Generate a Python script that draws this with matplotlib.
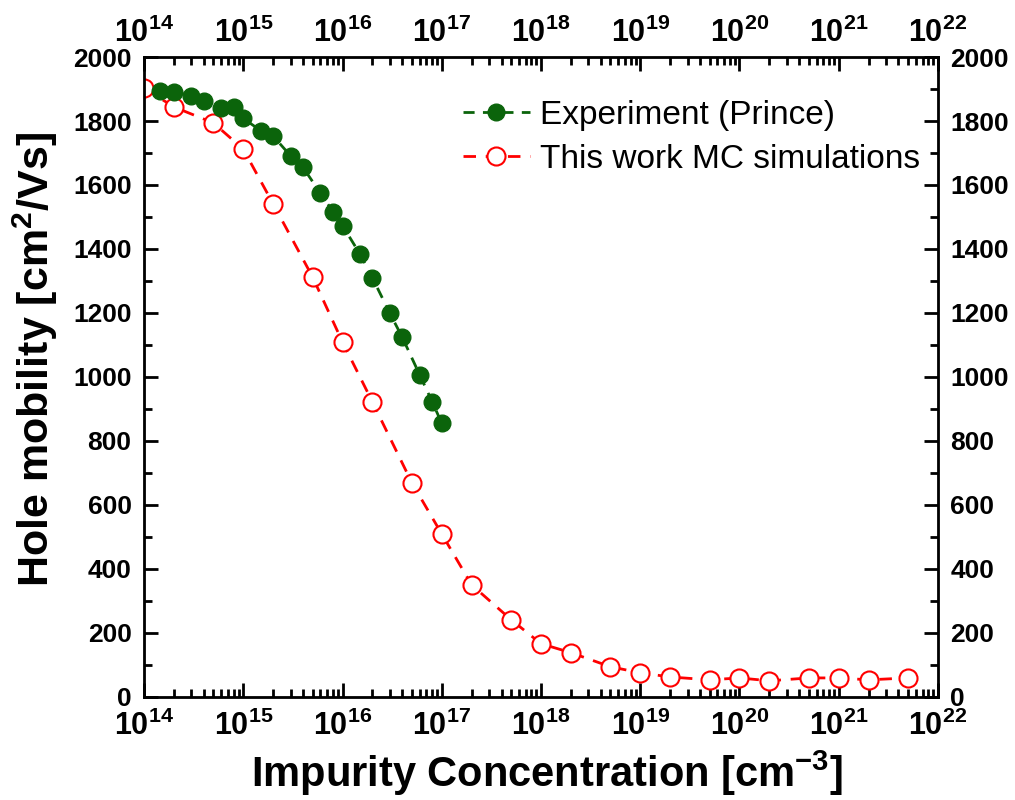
import math
import matplotlib
matplotlib.use("Agg")
import matplotlib.pyplot as plt
from matplotlib.ticker import LogLocator, MultipleLocator, FuncFormatter, NullFormatter

plt.rcParams['font.family'] = ['Liberation Sans', 'DejaVu Sans']
plt.rcParams['mathtext.fontset'] = 'custom'
plt.rcParams['mathtext.rm'] = 'Liberation Sans:bold'
plt.rcParams['mathtext.bf'] = 'Liberation Sans:bold'
plt.rcParams['mathtext.default'] = 'bf'

# Experiment (Prince)
exp_conc = [1.45e14, 2e14, 3e14, 4e14, 6e14, 8e14, 1e15, 1.5e15, 2e15, 3e15, 4e15,
            6e15, 8e15, 1e16, 1.5e16, 2e16, 3e16, 4e16, 6e16, 8e16, 1e17]
exp_mob = [1895, 1892, 1879, 1862, 1842, 1843, 1808, 1770, 1753, 1691, 1655,
           1574, 1517, 1473, 1384, 1310, 1199, 1124, 1006, 923, 855]

# This work MC simulations
mc_conc = [1e14, 2e14, 5e14, 1e15, 2e15, 5e15, 1e16, 2e16, 5e16, 1e17, 2e17, 5e17,
           1e18, 2e18, 5e18, 1e19, 2e19, 5e19, 1e20, 2e20, 5e20, 1e21, 2e21, 5e21]
mc_mob = [1903, 1844, 1794, 1712, 1541, 1312, 1109, 922, 669, 509, 350, 241,
          166, 138, 94, 75, 62, 53, 59, 50, 59, 59, 53, 59]

fig = plt.figure(figsize=(10.15, 8), dpi=100)
ax = fig.add_axes([0.1419, 0.129, 0.7822, 0.7997])

ax.plot(exp_conc, exp_mob, linestyle=(0, (4, 3)), color='#0b640b', lw=2,
        marker='o', markersize=12, markerfacecolor='#0b640b', markeredgecolor='#0b640b',
        label='Experiment (Prince)', zorder=3)
ax.plot(mc_conc, mc_mob, linestyle=(0, (4.5, 3.5)), color='#ff0000', lw=2,
        marker='o', markersize=13, markerfacecolor='white', markeredgecolor='#ff0000',
        markeredgewidth=1.5, label='This work MC simulations', zorder=2)

def setup_x(a):
    a.set_xscale('log')
    a.set_xlim(1e14, 1e22)
    a.xaxis.set_major_locator(LogLocator(base=10, numticks=20))
    a.xaxis.set_minor_locator(LogLocator(base=10, subs=range(2, 10), numticks=200))
    a.xaxis.set_minor_formatter(NullFormatter())
    a.xaxis.set_major_formatter(FuncFormatter(lambda v, p: r'$\mathbf{10^{%d}}$' % round(math.log10(v))))

setup_x(ax)
ax.set_ylim(0, 2000)
ax.yaxis.set_major_locator(MultipleLocator(200))
ax.yaxis.set_minor_locator(MultipleLocator(100))

ax.tick_params(which='both', direction='in', top=False, right=True,
               labeltop=False, labelright=True, width=2)
ax.tick_params(axis='x', which='major', labelsize=22, pad=10)
ax.tick_params(axis='y', which='major', labelsize=19, pad=9)
ax.tick_params(which='major', length=10)
ax.tick_params(which='minor', length=6)
for lab in ax.get_yticklabels():
    lab.set_fontweight('bold')
for s in ax.spines.values():
    s.set_linewidth(2)

# top axis with its own label padding
ax2 = ax.twiny()
setup_x(ax2)
ax2.tick_params(which='both', direction='in', width=2)
ax2.tick_params(which='major', length=10, labelsize=22, pad=6)
ax2.tick_params(which='minor', length=6)

ax.set_xlabel('Impurity Concentration [cm$^{-3}$]', fontsize=30, fontweight='bold')
ax.set_ylabel('Hole mobility [cm$^{2}$/Vs]', fontsize=31, fontweight='bold')
ax.xaxis.set_label_coords(0.508, -0.081)
ax.yaxis.set_label_coords(-0.106, 0.527)

ax.legend(loc='upper left', bbox_to_anchor=(0.385, 0.954), frameon=False, fontsize=24,
          handlelength=2.0, handletextpad=0.3, labelspacing=0.39, borderaxespad=0)

fig.savefig('out.png', dpi=100)
